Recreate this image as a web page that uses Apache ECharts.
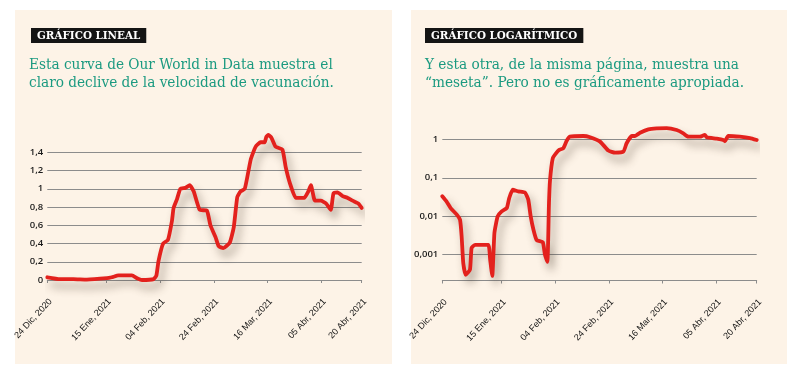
<!DOCTYPE html>
<html>
<head>
<meta charset="utf-8">
<script src="https://cdn.jsdelivr.net/npm/echarts@6/dist/echarts.min.js"></script>
<style>
html,body{margin:0;padding:0;background:#fff;}
#chart{width:800px;height:379px;}
</style>
</head>
<body>
<div id="chart"></div>
<script>
// ---- data (days since 24 Dic 2020) ----
var tickDays = [0, 22, 42, 62, 82, 102, 117];
var tickLabels = ["24 Dic, 2020", "15 Ene, 2021", "04 Feb, 2021", "24 Feb, 2021", "16 Mar, 2021", "05 Abr, 2021", "20 Abr, 2021"];

var linearDays = [0, 4.7, 9.7, 14.7, 22.2, 24.0, 26.5, 31.5, 33.4, 35.2, 39.6, 40.6, 41.4, 43.1, 44.9, 46.4, 47.0, 48.3, 49.5, 51.4,
  53.0, 54.5, 56.7, 59.4, 60.7, 62.6, 63.8, 65.5, 67.9, 69.4, 70.7, 71.9, 73.5, 75.7, 77.5, 79.4, 80.9, 81.5, 82.3, 83.4,
  85.0, 87.5, 88.7, 90.3, 92.5, 95.6, 97.1, 98.1, 99.6, 101.8, 103.7, 105.5, 106.5, 108.0, 109.9, 111.8, 113.6, 115.7, 117];
var linearValues = [0.03, 0.01, 0.01, 0.005, 0.02, 0.03, 0.05, 0.05, 0.02, 0.0, 0.01, 0.05, 0.21, 0.40, 0.44, 0.65, 0.79, 0.89, 1.0, 1.01,
  1.04, 0.97, 0.77, 0.76, 0.60, 0.47, 0.37, 0.35, 0.41, 0.58, 0.91, 0.97, 1.0, 1.32, 1.46, 1.51, 1.51, 1.57, 1.59, 1.56,
  1.46, 1.43, 1.24, 1.06, 0.90, 0.90, 0.97, 1.04, 0.87, 0.87, 0.84, 0.77, 0.95, 0.96, 0.92, 0.90, 0.87, 0.84, 0.79];

var logDays = [0, 1.6, 3.1, 5.4, 6.6, 7.2, 7.8, 8.7, 10.3, 10.9, 12.2, 17.1, 17.8, 18.6, 19.4, 20.6, 22.1, 24.0, 24.9, 26.2,
  28.3, 30.8, 32.0, 32.9, 33.9, 35.1, 37.4, 38.2, 39.1, 39.7, 40.1, 41.1, 42.3, 43.5, 45.0, 46.3, 47.5, 52.5, 55.0, 58.7,
  61.8, 64.3, 67.4, 68.6, 70.5, 71.7, 73.6, 76.7, 79.8, 83.5, 87.2, 89.7, 91.5, 95.9, 97.7, 98.4, 102.1, 104.6, 105.2, 106.4,
  110.7, 114.5, 117];
var logValues = [0.033, 0.024, 0.0163, 0.011, 0.0081, 0.003, 0.00061, 0.0003, 0.00041, 0.0015, 0.0018, 0.0018, 0.00075, 0.00028, 0.0037, 0.0099, 0.0133, 0.0163, 0.0296, 0.0487,
  0.044, 0.041, 0.0267, 0.0099, 0.0045, 0.0024, 0.0021, 0.001, 0.00065, 0.022, 0.088, 0.32, 0.43, 0.53, 0.58, 0.92, 1.17, 1.22, 1.13, 0.87,
  0.51, 0.45, 0.48, 0.79, 1.22, 1.22, 1.48, 1.82, 1.93, 1.96, 1.74, 1.43, 1.17, 1.17, 1.31, 1.13, 1.04, 0.96, 0.89, 1.22,
  1.17, 1.08, 0.96];

var linearTicks = [0, 0.2, 0.4, 0.6, 0.8, 1, 1.2, 1.4];
var logTicks = [0.001, 0.01, 0.1, 1];

var titles = ["GRÁFICO LINEAL", "GRÁFICO LOGARÍTMICO"];
var subtitles = [
  "Esta curva de Our World in Data muestra el\nclaro declive de la velocidad de vacunación.",
  "Y esta otra, de la misma página, muestra una\n“meseta”. Pero no es gráficamente apropiada."
];

// ---- styles ----
var BG = '#fdf3e7';
var RED = '#e3211d';
var TEAL = '#1b9a80';
var GRID = '#8c8c8c';
var SERIF = '"DejaVu Serif Condensed", "DejaVu Serif", serif';
var NARROW = '"Liberation Sans Narrow", "Liberation Sans", sans-serif';

function pairs(xs, ys) { return xs.map(function (x, i) { return [x, ys[i]]; }); }
function comma(v) { return String(parseFloat(Number(v).toPrecision(6))).replace('.', ','); }

function xAxisFor(gridIndex) {
  return {
    gridIndex: gridIndex, type: 'value', min: 0, max: 117,
    axisLine: { show: true, lineStyle: { color: GRID, width: 1 } },
    axisTick: { show: true, customValues: tickDays, length: 3, lineStyle: { color: GRID } },
    axisLabel: {
      customValues: tickDays, rotate: 47, margin: 17, align: 'right', verticalAlign: 'top',
      fontFamily: NARROW, fontSize: 9, color: '#141414',
      formatter: function (v) { var i = tickDays.indexOf(Math.round(v)); return i >= 0 ? tickLabels[i] : ''; }
    },
    splitLine: { show: false }
  };
}

var chart = echarts.init(document.getElementById('chart'), null, { renderer: 'canvas' });
chart.setOption({
  backgroundColor: '#ffffff',
  animation: false,
  graphic: [
    { type: 'rect', shape: { x: 15, y: 10, width: 377, height: 354 }, style: { fill: BG }, z: -10 },
    { type: 'rect', shape: { x: 411, y: 10, width: 376, height: 354 }, style: { fill: BG }, z: -10 }
  ],
  title: [
    { text: titles[0], left: 31, top: 28, backgroundColor: '#141414', padding: [2, 6, 1, 6],
      textStyle: { color: '#fff', fontFamily: SERIF, fontWeight: 'bold', fontSize: 11.5, lineHeight: 12 } },
    { text: titles[1], left: 425, top: 28, backgroundColor: '#141414', padding: [2, 6, 1, 6],
      textStyle: { color: '#fff', fontFamily: SERIF, fontWeight: 'bold', fontSize: 11.5, lineHeight: 12 } },
    { text: subtitles[0], left: 29, top: 56, padding: 0,
      textStyle: { color: TEAL, fontFamily: SERIF, fontWeight: 'normal', fontSize: 15.2, lineHeight: 18 } },
    { text: subtitles[1], left: 425, top: 56, padding: 0,
      textStyle: { color: TEAL, fontFamily: SERIF, fontWeight: 'normal', fontSize: 15.2, lineHeight: 18 } }
  ],
  grid: [
    { left: 47.3, top: 152.3, width: 314.4, height: 127.7, containLabel: false },
    { left: 442.3, top: 139.3, width: 314.4, height: 141.2, containLabel: false }
  ],
  xAxis: [xAxisFor(0), xAxisFor(1)],
  yAxis: [
    {
      gridIndex: 0, type: 'value', min: 0, max: 1.4, interval: 0.2,
      axisLine: { show: false }, axisTick: { show: false },
      axisLabel: { margin: 4, fontFamily: '"Open Sans", sans-serif', fontWeight: 600, fontSize: 9.5, color: '#1a1a1a', formatter: comma },
      splitLine: { show: true, lineStyle: { color: GRID, width: 1 } }
    },
    {
      gridIndex: 1, type: 'log', logBase: 10, min: 0.000213, max: 1,
      axisLine: { show: false }, axisTick: { show: false },
      axisLabel: { margin: 4, showMinLabel: false, fontFamily: '"Open Sans", sans-serif', fontWeight: 600, fontSize: 9.5, color: '#1a1a1a', formatter: comma },
      splitLine: { show: true, lineStyle: { color: GRID, width: 1 } }
    }
  ],
  series: [
    {
      type: 'line', xAxisIndex: 0, yAxisIndex: 0, data: pairs(linearDays, linearValues),
      showSymbol: false, clip: false, smooth: 0.15,
      lineStyle: { color: RED, width: 3.8, cap: 'round', join: 'round',
        shadowColor: 'rgba(70,55,40,0.45)', shadowBlur: 9, shadowOffsetX: 4, shadowOffsetY: 7 }
    },
    {
      type: 'line', xAxisIndex: 1, yAxisIndex: 1, data: pairs(logDays, logValues),
      showSymbol: false, clip: false, smooth: 0.15,
      lineStyle: { color: RED, width: 3.8, cap: 'round', join: 'round',
        shadowColor: 'rgba(70,55,40,0.45)', shadowBlur: 9, shadowOffsetX: 4, shadowOffsetY: 7 }
    }
  ]
});
</script>
</body>
</html>
